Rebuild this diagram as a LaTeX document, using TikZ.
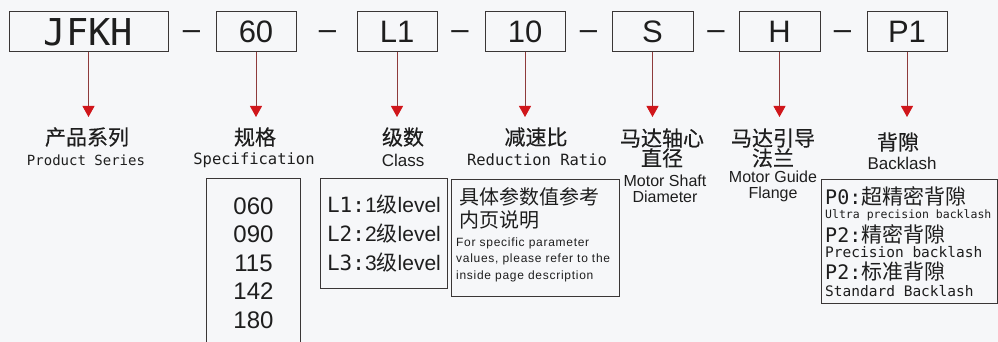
\documentclass[tikz,border=0pt]{standalone}
\usepackage{fontspec}
\setmainfont{Liberation Sans}
\setmonofont{DejaVu Sans Mono}
\newfontfamily\cjk{Noto Sans CJK SC}
\newfontfamily\cjkhead[FakeBold=0.3]{Noto Sans CJK SC}
\newfontfamily\notefont[LetterSpace=6]{Liberation Sans}
\usetikzlibrary{arrows.meta}
\definecolor{bgpaper}{HTML}{F6F7F9}
\definecolor{framegray}{HTML}{3A3636}
\definecolor{stemred}{HTML}{8E3B3B}
\definecolor{tipred}{HTML}{D0161B}
\definecolor{inkgray}{HTML}{1E1E1E}
\newcommand{\bkcn}[1]{{\cjk\fontsize{21}{21}\selectfont #1}}

\begin{document}
\begin{tikzpicture}[x=1pt,y=-1pt,
          every node/.style={text=inkgray,inner sep=0pt},
          codebox/.style={draw=framegray,line width=1pt,fill=bgpaper,
                          minimum width=80pt,minimum height=40pt,
                          font=\fontsize{31}{31}\selectfont},
          sepdash/.style={anchor=base,font=\fontsize{31}{31}\selectfont},
          headcn/.style={font=\cjkhead\fontsize{21}{20}\selectfont,align=center},
          headmono/.style={font=\ttfamily\fontsize{14}{14}\selectfont},
          headsans/.style={font=\fontsize{16}{16}\selectfont,align=center},
          listbox/.style={draw=framegray,line width=1pt,anchor=north west},
          pointer/.style={draw=stemred,line width=0.9pt,
                          -{Triangle[length=11pt,width=12pt,color=tipred]}}
      ]
        \fill[bgpaper] (0,0) rectangle (998,342);
        \useasboundingbox (0,0) rectangle (998,342);

        % code segments
        \node[codebox,minimum width=159pt,font=\ttfamily\fontsize{37}{37}\selectfont]
          (series) at (88.5,32) {JFKH};
        \node[codebox] (spec)   at (256,32)   {60};
        \node[codebox] (class)  at (397,32)   {L1};
        \node[codebox] (ratio)  at (525,32)   {10};
        \node[codebox,minimum width=81pt] (shaft)  at (652.5,32) {S};
        \node[codebox,minimum width=81pt] (flange) at (779.5,32) {H};
        \node[codebox] (back)   at (907,32)   {P1};

        \node[sepdash] (d1) at (191.5,39.5) {–};
        \node[sepdash] (d2) at (327.5,39.5) {–};
        \node[sepdash] (d3) at (460,39.5)   {–};
        \node[sepdash] (d4) at (588.5,39.5) {–};
        \node[sepdash] (d5) at (716,39.5)   {–};
        \node[sepdash] (d6) at (842.5,39.5) {–};

        % pointers
        \coordinate (tseries) at (series.south |- 0,117);
        \coordinate (tspec)   at (spec.south |- 0,117);
        \coordinate (tclass)  at (class.south |- 0,117);
        \coordinate (tratio)  at (ratio.south |- 0,117);
        \coordinate (tshaft)  at (shaft.south |- 0,117);
        \coordinate (tflange) at (flange.south |- 0,117);
        \coordinate (tback)   at (back.south |- 0,117);
        \draw[pointer] (series.south) -- (tseries);
        \draw[pointer] (spec.south)   -- (tspec);
        \draw[pointer] (class.south)  -- (tclass);
        \draw[pointer] (ratio.south)  -- (tratio);
        \draw[pointer] (shaft.south)  -- (tshaft);
        \draw[pointer] (flange.south) -- (tflange);
        \draw[pointer] (back.south)   -- (tback);

        % headings
        \node[headcn] (seriescn) at (87,137) {产品系列};
        \node[headmono] (seriesen) at (86,160) {Product Series};
        \node[headcn] (speccn) at (255,137) {规格};
        \node[headmono,font=\ttfamily\fontsize{15.5}{15.5}\selectfont] (specen) at (254,160) {Specification};
        \node[headcn] (classcn) at (403,137) {级数};
        \node[headsans,font=\fontsize{17}{17}\selectfont] (classen) at (403,160) {Class};
        \node[headcn] (ratiocn) at (536,137) {减速比};
        \node[headmono,font=\ttfamily\fontsize{15.5}{15.5}\selectfont] (ratioen) at (537,160) {Reduction Ratio};
        \node[headcn] (shaftcn) at (662,148) {马达轴心\\直径};
        \node[headsans] (shaften) at (665,189) {Motor Shaft\\Diameter};
        \node[headcn] (flangecn) at (773,148) {马达引导\\法兰};
        \node[headsans] (flangeen) at (773,186.5) {Motor Guide\\Flange};
        \node[headcn] (backcn) at (898,142) {背隙};
        \node[headsans,font=\fontsize{17}{17}\selectfont] (backen) at (902,163) {Backlash};

        % option boxes
        \node[listbox,minimum width=94pt,minimum height=180pt] (specbox) at (206,178) {};
        \node[font=\fontsize{24}{28.6}\selectfont,align=center] (speclist)
          at (specbox.north |- 0,263) {060\\090\\115\\142\\180};

        \node[listbox,minimum width=127pt,minimum height=110pt,align=left,
              font=\fontsize{21}{29}\selectfont] (classbox) at (320,178)
          {\texttt{L1:}1{\cjk 级}level\\\texttt{L2:}2{\cjk 级}level\\\texttt{L3:}3{\cjk 级}level};

        \node[listbox,minimum width=168pt,minimum height=117pt] (ratiobox) at (451,179) {};
        \node[anchor=west,align=left,font=\cjk\fontsize{20}{23}\selectfont] (ratiocn2)
          at (459,208.5) {具体参数值参考\\内页说明};
        \node[anchor=west,align=left,font=\notefont\fontsize{12}{16.5}\selectfont] (ratioen2)
          at (456,259.5) {For specific parameter\\values, please refer to the\\inside page description};

        \node[listbox,minimum width=176pt,minimum height=124pt] (backbox) at (821,179) {};
        \node[anchor=west,font=\ttfamily\fontsize{20}{20}\selectfont] (bl1) at (825,196.5) {P0:\bkcn{超精密背隙}};
        \node[anchor=west,font=\ttfamily\fontsize{11.5}{11.5}\selectfont] (bl2) at (825,215) {Ultra precision backlash};
        \node[anchor=west,font=\ttfamily\fontsize{20}{20}\selectfont] (bl3) at (825,234) {P2:\bkcn{精密背隙}};
        \node[anchor=west,font=\ttfamily\fontsize{14.5}{14.5}\selectfont] (bl4) at (825,252) {Precision backlash};
        \node[anchor=west,font=\ttfamily\fontsize{20}{20}\selectfont] (bl5) at (825,272) {P2:\bkcn{标准背隙}};
        \node[anchor=west,font=\ttfamily\fontsize{14.5}{14.5}\selectfont] (bl6) at (825,291) {Standard Backlash};
      \end{tikzpicture}
\end{document}
